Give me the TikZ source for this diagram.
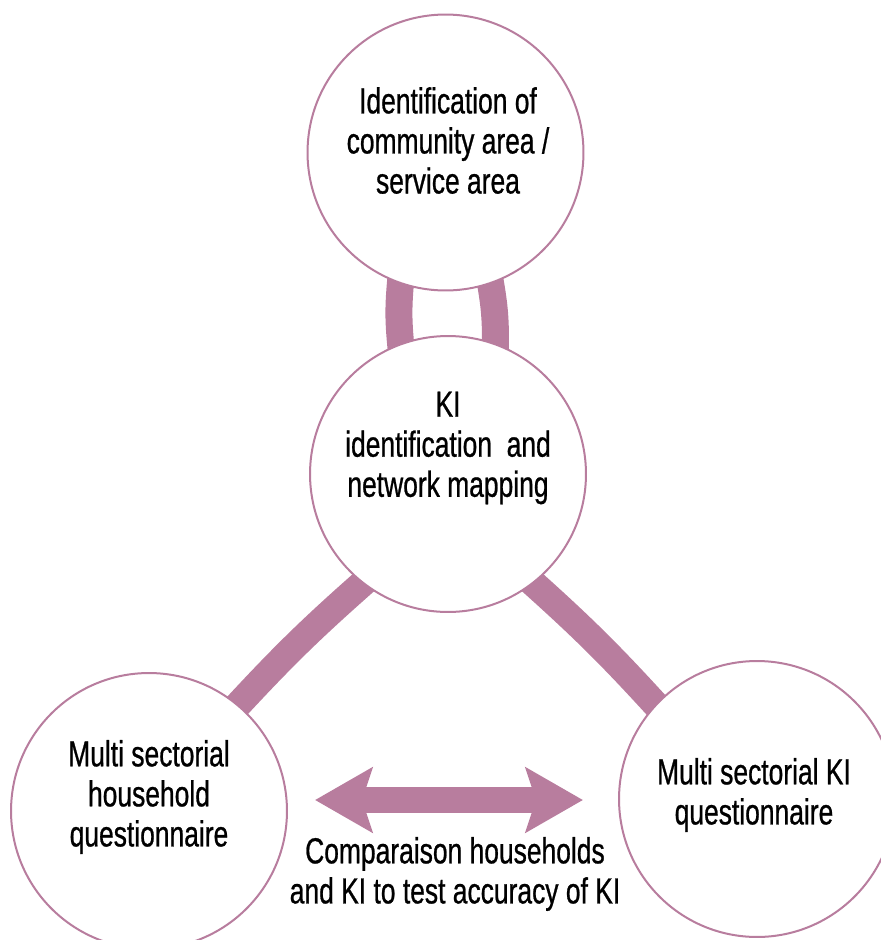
\documentclass[tikz,border=0pt]{standalone}
\usepackage{fontspec}
\setmainfont{Liberation Sans}[FakeStretch=0.73,FakeBold=0.7]
\usetikzlibrary{arrows.meta,backgrounds}
\definecolor{mauve}{HTML}{B87D9E}
\tikzset{
  stage/.style={circle,draw=mauve,line width=0.04cm,fill=white,minimum size=5.52cm,inner sep=0pt},
  stagetext/.style={align=center,font=\fontsize{20.6pt}{22.8pt}\selectfont},
  band/.style={mauve,line width=0.54cm,shorten <=-0.3cm,shorten >=-0.3cm},
  cmparrow/.style={mauve,line width=0.52cm,{Stealth[length=1.14cm,width=1.28cm,inset=0.2cm]}-{Stealth[length=1.14cm,width=1.28cm,inset=0.2cm]}}
}
\begin{document}
\begin{tikzpicture}[x=0.02cm,y=-0.02cm]
  \useasboundingbox (0,0) rectangle (881,940);
  \node[stage,label={[stagetext,yshift=0.24cm,xshift=0.05cm]center:{Identification of\\community area /\\service area}}] (area) at (445.5,152.5) {};
  \node[stage,label={[stagetext,yshift=0.52cm]center:{KI\\identification\ \ and\\network mapping}}] (kimap) at (448,474) {};
  \node[stage,label={[stagetext,yshift=0.28cm]center:{Multi sectorial\\household\\questionnaire}}] (hhq) at (149,811) {};
  \node[stage,label={[stagetext,yshift=0.08cm,xshift=-0.06cm]center:{Multi sectorial KI\\questionnaire}}] (kiq) at (757,799) {};
  \begin{scope}[on background layer]
    \draw[band] (area.251) to[bend right=6] (kimap.110);
    \draw[band] (area.289) to[bend left=6] (kimap.70);
    \draw[band] (kimap.232) to[bend right=3] (hhq.50);
    \draw[band] (kimap.308) to[bend left=3] (kiq.137);
  \end{scope}
  \coordinate (cmpL) at (315,800);
  \coordinate (cmpR) at (583,800);
  \draw[cmparrow] (cmpL) -- (cmpR);
  \node[stagetext] (cmptext) at (455,874) {Comparaison households\\and KI to test accuracy of KI};
\end{tikzpicture}
\end{document}
